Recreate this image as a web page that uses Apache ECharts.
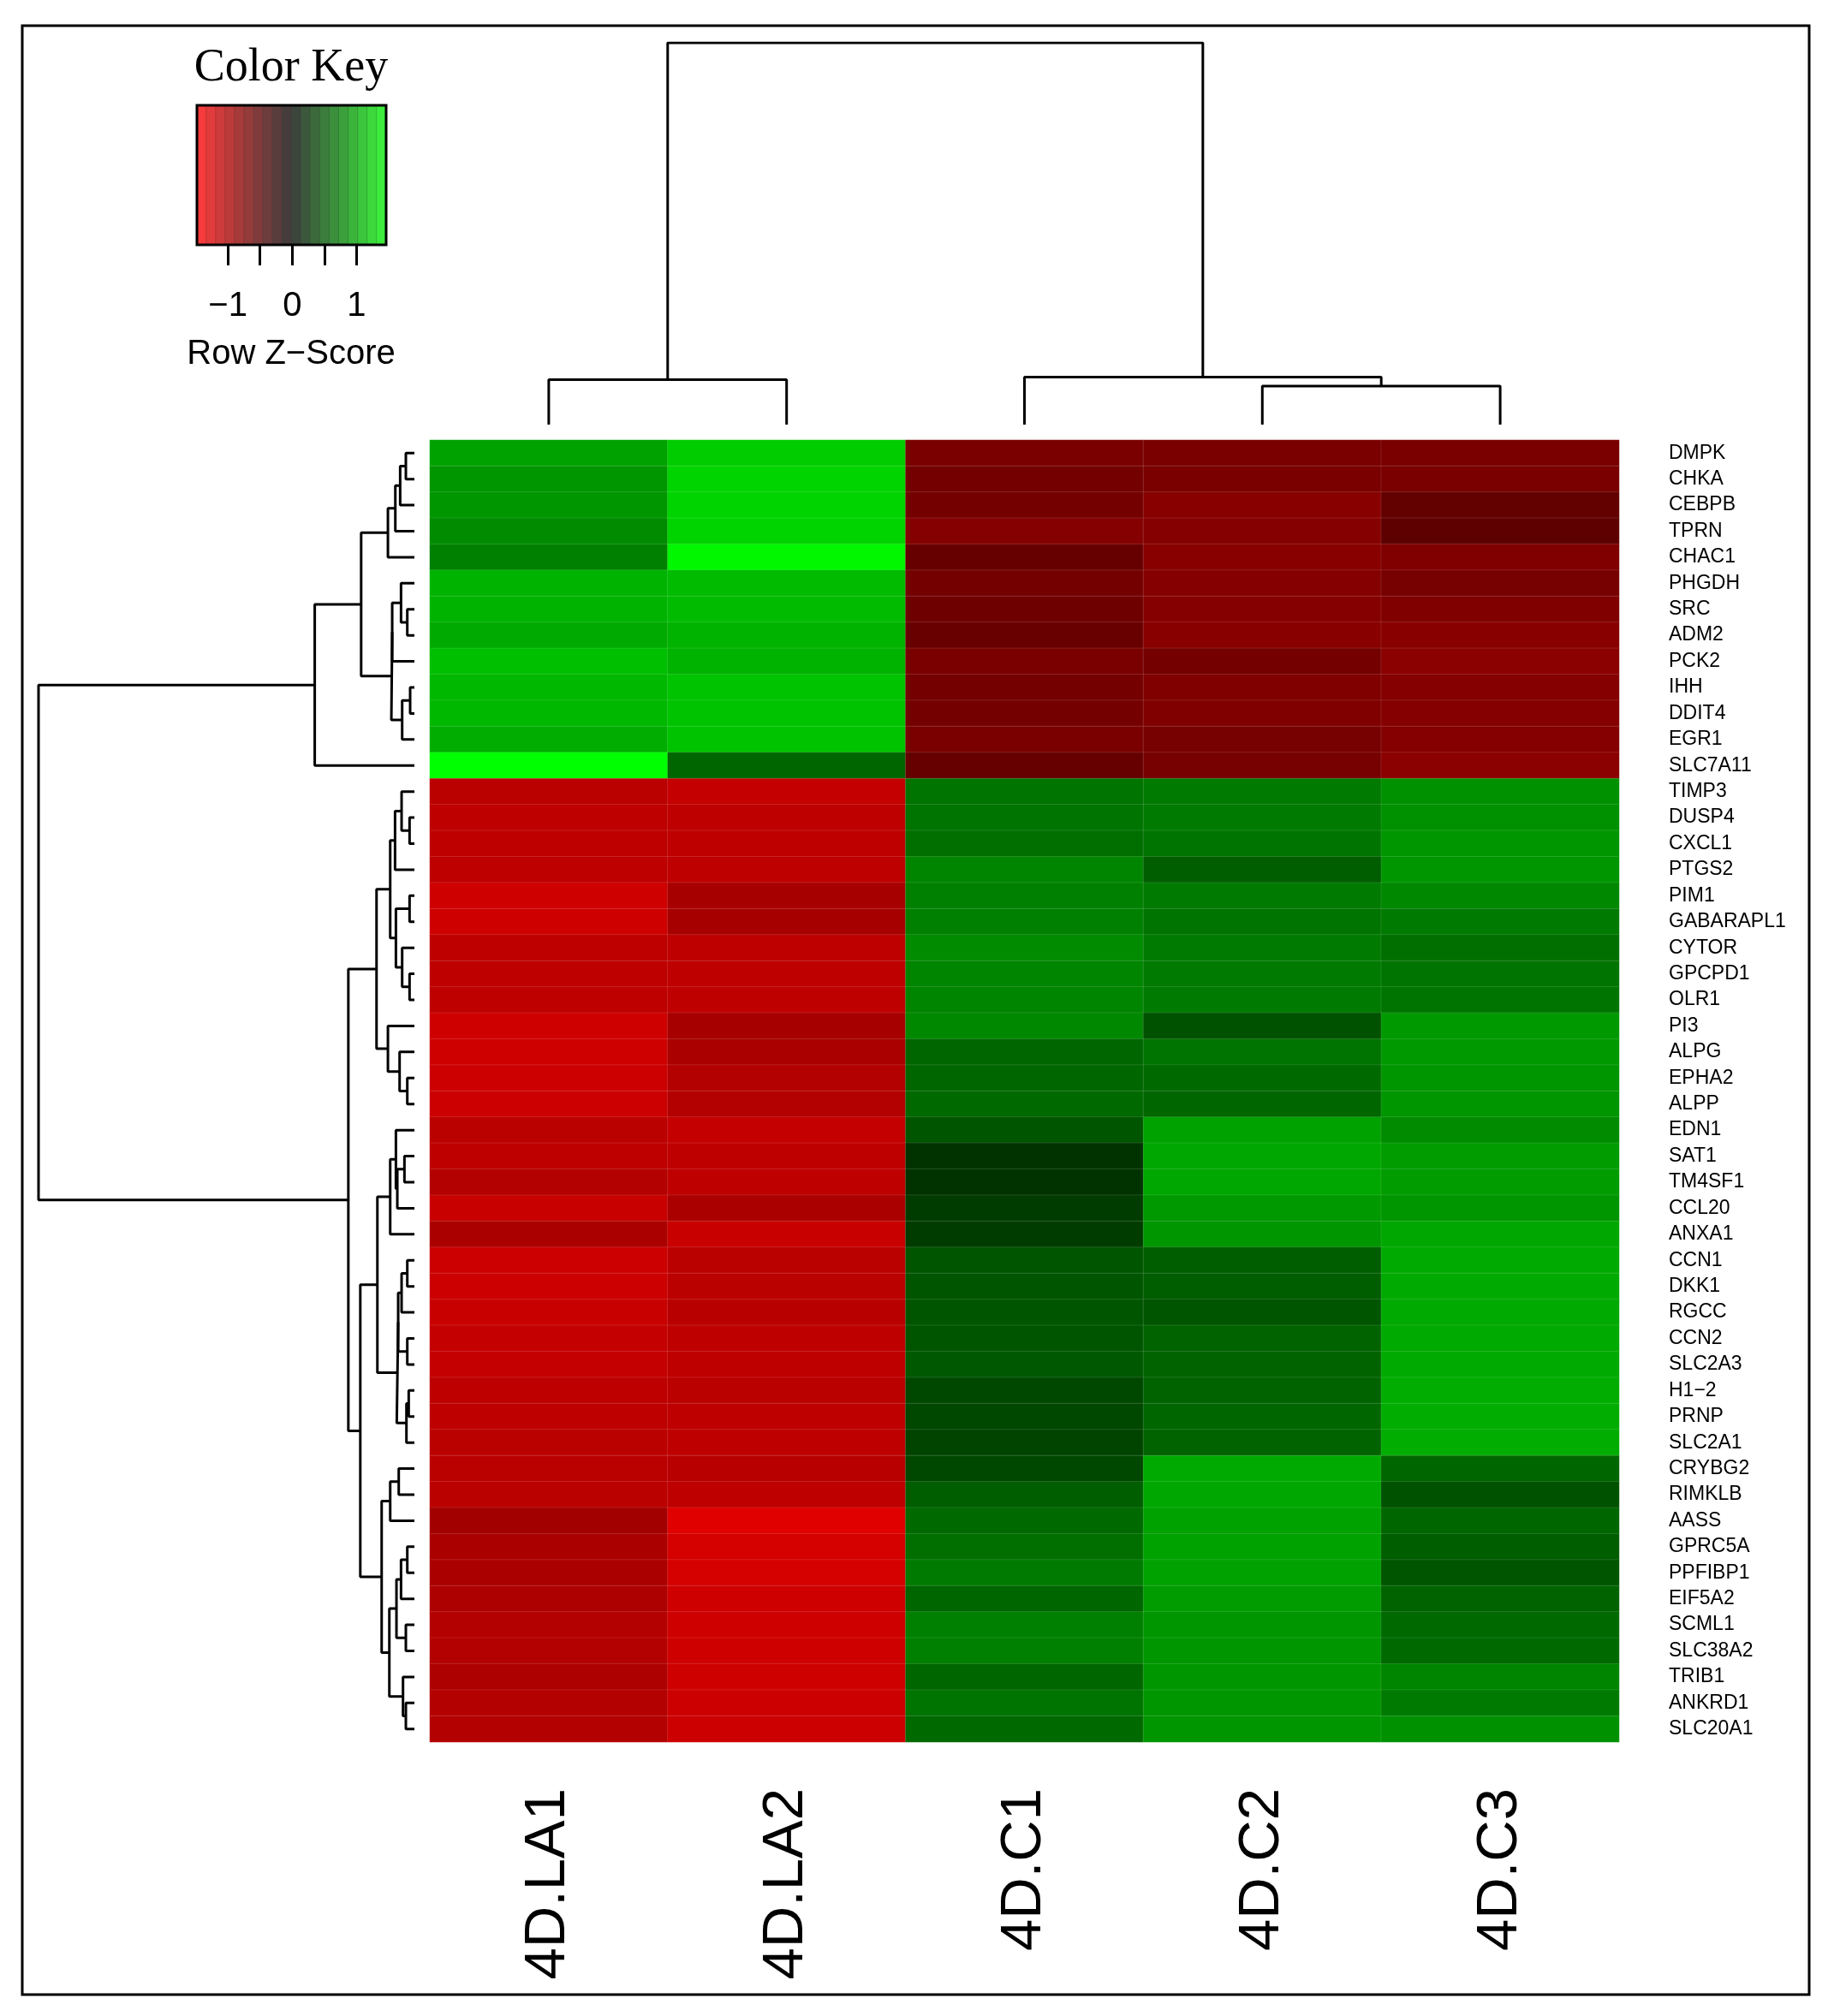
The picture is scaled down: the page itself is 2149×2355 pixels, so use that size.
<!DOCTYPE html>
<html><head><meta charset="utf-8">
<script src="https://cdn.jsdelivr.net/npm/echarts@6/dist/echarts.min.js"></script>
<style>html,body{margin:0;padding:0;background:#fff}#c{width:2149px;height:2355px}</style>
</head><body><div id="c"></div>
<script>
const samples = ['4D.LA1','4D.LA2','4D.C1','4D.C2','4D.C3'];
const genes = ['DMPK','CHKA','CEBPB','TPRN','CHAC1','PHGDH','SRC','ADM2','PCK2','IHH','DDIT4','EGR1','SLC7A11',
'TIMP3','DUSP4','CXCL1','PTGS2','PIM1','GABARAPL1','CYTOR','GPCPD1','OLR1','PI3','ALPG','EPHA2','ALPP',
'EDN1','SAT1','TM4SF1','CCL20','ANXA1','CCN1','DKK1','RGCC','CCN2','SLC2A3','H1\u22122','PRNP','SLC2A1',
'CRYBG2','RIMKLB','AASS','GPRC5A','PPFIBP1','EIF5A2','SCML1','SLC38A2','TRIB1','ANKRD1','SLC20A1'];
const zscores = [
[0.95,1.2,-0.72,-0.72,-0.72],[0.88,1.25,-0.68,-0.72,-0.72],[0.88,1.25,-0.68,-0.8,-0.58],[0.82,1.25,-0.78,-0.78,-0.55],
[0.75,1.45,-0.6,-0.8,-0.75],[1.05,1.1,-0.68,-0.78,-0.7],[1.05,1.1,-0.65,-0.78,-0.75],[1.0,1.05,-0.62,-0.8,-0.8],
[1.12,1.05,-0.72,-0.68,-0.82],[1.08,1.15,-0.68,-0.75,-0.78],[1.08,1.15,-0.68,-0.75,-0.78],[1.02,1.15,-0.72,-0.7,-0.78],
[1.5,0.6,-0.6,-0.7,-0.82],
[-1.1,-1.15,0.68,0.72,0.85],[-1.12,-1.12,0.68,0.72,0.85],[-1.12,-1.12,0.65,0.68,0.88],[-1.12,-1.12,0.78,0.55,0.88],
[-1.22,-0.98,0.75,0.72,0.8],[-1.22,-0.98,0.75,0.68,0.72],[-1.12,-1.12,0.82,0.72,0.65],[-1.12,-1.12,0.78,0.72,0.68],
[-1.12,-1.12,0.78,0.72,0.68],[-1.22,-0.98,0.8,0.48,0.9],[-1.22,-1.0,0.6,0.68,0.9],[-1.2,-1.05,0.6,0.62,0.88],
[-1.2,-1.05,0.62,0.6,0.88],[-1.1,-1.15,0.5,0.95,0.82],[-1.12,-1.12,0.3,0.98,0.92],[-1.05,-1.12,0.3,0.98,0.92],
[-1.18,-1.0,0.35,0.9,0.88],[-1.0,-1.18,0.35,0.88,0.98],[-1.2,-1.1,0.5,0.55,1.0],[-1.2,-1.1,0.5,0.55,1.0],
[-1.18,-1.08,0.5,0.5,1.0],[-1.15,-1.12,0.5,0.58,1.0],[-1.15,-1.12,0.52,0.58,1.0],[-1.12,-1.1,0.42,0.58,1.02],
[-1.12,-1.12,0.42,0.6,1.02],[-1.1,-1.12,0.4,0.58,1.02],[-1.1,-1.08,0.42,1.0,0.6],[-1.1,-1.12,0.55,0.98,0.48],
[-0.95,-1.32,0.62,0.95,0.6],[-1.0,-1.25,0.65,0.95,0.55],[-1.0,-1.25,0.72,0.95,0.5],[-1.02,-1.22,0.6,0.92,0.58],
[-1.05,-1.22,0.75,0.88,0.62],[-1.05,-1.22,0.75,0.88,0.62],[-1.02,-1.22,0.6,0.88,0.78],[-1.05,-1.2,0.68,0.88,0.72],
[-1.05,-1.2,0.62,0.88,0.85]];
function t(a,b,x){return [a,b,x];}
const A=t(t(t(t(0,1,1335),2,1315),3,1298),4,1272);
const B=t(5,t(6,7,1340),1318), D=t(B,8,1287), C=t(t(9,10,1350),11,1322), E=t(D,C,1284);
const TOP=t(t(A,E,1178),12,1015);
const F=t(t(13,t(14,15,1348),1320),16,1297), G=t(t(17,18,1348),t(19,t(20,21,1348),1322),1300);
const H=t(F,G,1280), I=t(22,t(23,t(24,25,1340),1313),1272), U=t(H,I,1232);
const J=t(t(26,t(t(27,28,1330),29,1305),1300),30,1280);
const K=t(t(t(t(31,32,1340),33,1320),t(34,35,1340),1308),t(t(36,37,1345),38,1337),1303);
const JK=t(J,K,1235), L1=t(t(39,40,1310),41,1280);
const L2=t(t(t(42,43,1340),44,1318),t(45,46,1335),1302), L3=t(47,t(48,49,1335),1325);
const L=t(L1,t(L2,L3,1277),1250), LOW=t(JK,L,1175), BOT=t(U,LOW,1133);
const rowTree=t(TOP,BOT,45);
const colTree=[[0,1,35],[2,[3,4,30],37],297];
const keyTicks=[-1,-0.5,0,0.5,1], keyLabels=[-1,0,1];

function segs(node,hf,out){
  if(typeof node==='number') return {p:node,h:0};
  const l=segs(node[0],hf,out), r=segs(node[1],hf,out), h=hf(node[2]);
  out.push([[l.p,l.h],[l.p,h],[r.p,h],[r.p,r.h]]);
  return {p:(l.p+r.p)/2,h:h};
}
const rowSegs=[]; segs(rowTree,x=>(1365-x)/1320,rowSegs);
const colSegs=[]; segs(colTree,x=>x,colSegs);

const heat=[]; zscores.forEach((r,i)=>r.forEach((v,j)=>heat.push([j,i,v])));
const keyBins=[]; for(let k=0;k<20;k++) keyBins.push(-1.5+(k+0.5)*0.15);

const series=[
 {type:'heatmap',xAxisIndex:0,yAxisIndex:0,data:heat,itemStyle:{borderColor:'rgba(255,255,255,0.12)',borderWidth:1},silent:true},
 {type:'heatmap',xAxisIndex:3,yAxisIndex:3,data:keyBins.map((v,k)=>[k,0,v]),itemStyle:{borderColor:'rgba(0,0,0,0.15)',borderWidth:1},silent:true}
];
rowSegs.forEach(s=>series.push({type:'line',xAxisIndex:1,yAxisIndex:1,data:s.map(p=>[p[1],p[0]]),symbol:'none',lineStyle:{color:'#000',width:3},silent:true,animation:false}));
colSegs.forEach(s=>series.push({type:'line',xAxisIndex:2,yAxisIndex:2,data:s,symbol:'none',lineStyle:{color:'#000',width:3},silent:true,animation:false}));

const hm={left:502,top:514,width:1389,height:1521};
const chart=echarts.init(document.getElementById('c'));
chart.setOption({
 backgroundColor:'#fff',animation:false,
 grid:[hm,{left:45,top:514,width:439,height:1521},{left:502,top:50,width:1389,height:446},{left:230,top:123,width:221,height:163},{left:230,top:123,width:221,height:163}],
 xAxis:[
  {type:'category',gridIndex:0,data:samples,position:'bottom',axisLine:{show:false},axisTick:{show:false},splitLine:{show:false},
   axisLabel:{rotate:90,fontSize:67,color:'#000',fontFamily:'Liberation Sans',margin:54,padding:[0,0,28,0]}},
  {type:'value',gridIndex:1,min:0,max:1,inverse:true,show:false},
  {type:'value',gridIndex:2,min:-0.5,max:4.5,show:false},
  {type:'category',gridIndex:3,data:keyBins.map((v,k)=>k),show:false},
  {type:'value',gridIndex:4,min:-1.48,max:1.46,position:'bottom',axisLine:{show:false},splitLine:{show:false},
   axisTick:{show:true,length:24,lineStyle:{color:'#000',width:3},customValues:keyTicks},
   axisLabel:{customValues:keyLabels,fontSize:40,color:'#000',fontFamily:'Liberation Sans',margin:52,formatter:v=>String(v).replace('-','\u2212')}}
 ],
 yAxis:[
  {type:'category',gridIndex:0,data:genes,inverse:true,position:'right',axisLine:{show:false},axisTick:{show:false},
   axisLabel:{fontSize:23,color:'#000',fontFamily:'Liberation Sans',margin:58,align:'left'}},
  {type:'value',gridIndex:1,min:-0.5,max:49.5,inverse:true,show:false},
  {type:'value',gridIndex:2,min:0,max:297,show:false},
  {type:'category',gridIndex:3,data:[0],show:false},
  {type:'value',gridIndex:4,min:0,max:1,show:false}
 ],
 visualMap:[
  {type:'continuous',seriesIndex:0,min:-1.5,max:1.5,show:false,inRange:{color:['#ff0000','#000000','#00ff00']}},
  {type:'continuous',seriesIndex:1,min:-1.5,max:1.5,show:false,inRange:{color:['#ff3b3b','#3c3c3c','#3cf43c']}}
 ],
 graphic:[
  {type:'rect',shape:{x:26,y:30,width:2087,height:2300},style:{fill:'none',stroke:'#000',lineWidth:3},silent:true},
  {type:'rect',shape:{x:230,y:123,width:221,height:163},style:{fill:'none',stroke:'#000',lineWidth:3},silent:true,z:100},
  {type:'text',x:340,y:80,style:{text:'Color Key',font:'54px "Liberation Serif"',fill:'#000',align:'center',verticalAlign:'middle'}},
  {type:'text',x:340,y:414,style:{text:'Row Z\u2212Score',font:'40px "Liberation Sans"',fill:'#000',align:'center',verticalAlign:'middle'}}
 ],
 series:series
});
</script></body></html>
